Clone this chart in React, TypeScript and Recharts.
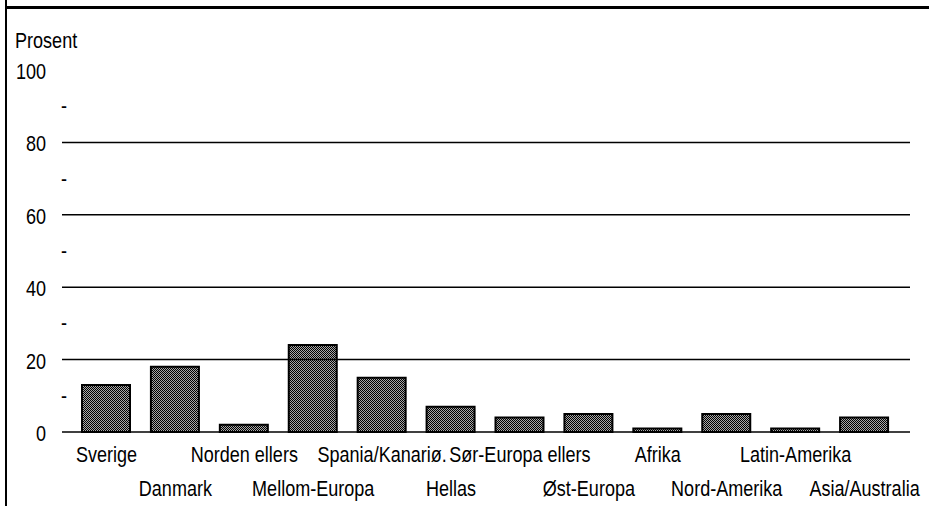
import { BarChart, Bar, XAxis, YAxis, ReferenceLine } from 'recharts'

const categories = [
  'Sverige',
  'Danmark',
  'Norden ellers',
  'Mellom-Europa',
  'Spania/Kanariø.',
  'Hellas',
  'Sør-Europa ellers',
  'Øst-Europa',
  'Afrika',
  'Nord-Amerika',
  'Latin-Amerika',
  'Asia/Australia'
]
const percent = [13, 18, 2, 24, 15, 7, 4, 5, 1, 5, 1, 4]
const yTicks = [0, 10, 20, 30, 40, 50, 60, 70, 80, 90, 100]
const gridValues = [20, 40, 60, 80]

const data = categories.map((name, i) => ({ name, value: percent[i] }))

// narrow Helvetica look: regular sans squeezed horizontally
const FONT = '"Liberation Sans", Arial, Helvetica, sans-serif'
const SIZE = 22
const SQUEEZE = 0.82

function NarrowText({ x, y, anchor, children }: any) {
  return (
    <text
      transform={`translate(${x},${y}) scale(${SQUEEZE},1)`}
      textAnchor={anchor}
      fontFamily={FONT}
      fontSize={SIZE}
      fill='#000'
    >
      {children}
    </text>
  )
}

function XTick({ x, y, payload, index }: any) {
  const second = index % 2 === 1
  return (
    <NarrowText x={x} y={y + (second ? 56 : 22)} anchor='middle'>
      {payload.value}
    </NarrowText>
  )
}

function YTick({ y, payload }: any) {
  if (payload.value % 20 === 0) {
    return (
      <NarrowText x={46} y={y + 9} anchor='end'>
        {payload.value}
      </NarrowText>
    )
  }
  return (
    <NarrowText x={61} y={y + 7} anchor='start'>
      -
    </NarrowText>
  )
}

export default function App() {
  return (
    <div style={{ position: 'absolute', left: 0, top: 0, width: 929, height: 506, background: '#fff', overflow: 'hidden' }}>
      <BarChart
        width={929}
        height={506}
        data={data}
        margin={{ top: 70, right: 19, bottom: 0, left: 0 }}
      >
        <defs>
          <pattern id='dots' width={2} height={2} patternUnits='userSpaceOnUse'>
            <rect width={2} height={2} fill='#a8a8a8' />
            <rect x={0} y={0} width={1} height={1} fill='#000' />
            <rect x={1} y={1} width={1} height={1} fill='#000' />
          </pattern>
        </defs>
        <XAxis
          dataKey='name'
          height={74}
          interval={0}
          padding={{ left: 10, right: 11 }}
          tickLine={false}
          axisLine={{ stroke: '#000', strokeWidth: 1.5 }}
          tick={<XTick />}
        />
        <YAxis
          width={62}
          domain={[0, 100]}
          ticks={yTicks}
          interval={0}
          axisLine={false}
          tickLine={false}
          tick={<YTick />}
        />
        {gridValues.map((v) => (
          <ReferenceLine key={v} y={v} stroke='#000' strokeWidth={1.5} />
        ))}
        <Bar dataKey='value' fill='url(#dots)' stroke='#000' strokeWidth={2} barSize={48} isAnimationActive={false} />
      </BarChart>
      <div
        style={{
          position: 'absolute',
          left: 15,
          top: 28,
          fontFamily: FONT,
          fontSize: SIZE,
          lineHeight: '26px',
          color: '#000',
          transform: `scaleX(${SQUEEZE})`,
          transformOrigin: 'left top'
        }}
      >
        Prosent
      </div>
      <div style={{ position: 'absolute', left: 5, top: 0, width: 2, height: 506, background: '#000' }} />
      <div style={{ position: 'absolute', left: 5, top: 6, width: 924, height: 3, background: '#000' }} />
    </div>
  )
}
